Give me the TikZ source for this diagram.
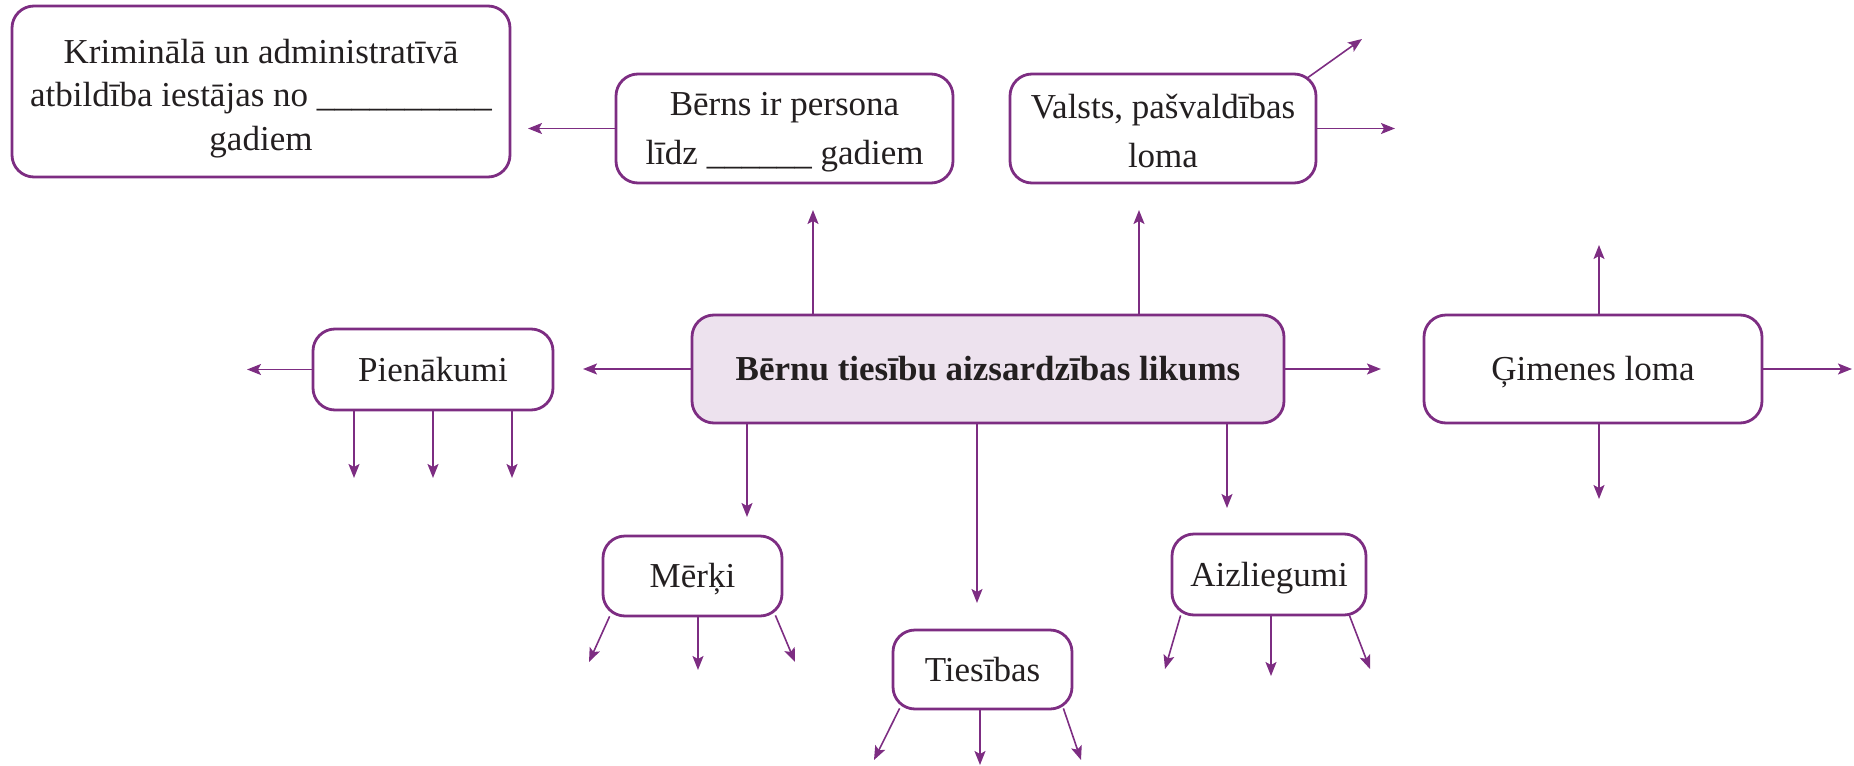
\documentclass[tikz,border=0pt]{standalone}
\usepackage{fontspec}
\setmainfont{Liberation Serif}
\usetikzlibrary{arrows.meta,calc}
\definecolor{pur}{RGB}{125,45,130}
\definecolor{lav}{RGB}{237,226,238}
\definecolor{txt}{RGB}{35,31,32}
\begin{document}
\begin{tikzpicture}[x=0.5pt,y=-0.5pt,
  box/.style={draw=pur, line width=1.4pt, rounded corners=11pt, fill=white, text=txt,
    font=\fontsize{17.5}{21.75}\selectfont, align=center, inner sep=0pt},
  one/.style={text height=15.5pt, text depth=4pt},
  two/.style={font=\fontsize{17.5}{24.5}\selectfont},
  arr/.style={draw=pur, line width=0.8pt, -{Stealth[length=7pt,width=5.5pt,inset=1.5pt]}}]
\useasboundingbox (0,0) rectangle (1854,766);

% nodes
\node[box, minimum width=249pt, minimum height=85.5pt] (krim) at (261,91.5)
  {\rule{0pt}{19pt}Kriminālā un administratīvā\\atbildība iestājas no \_\_\_\_\_\_\_\_\_\_\\gadiem};
\node[box, two, minimum width=168.5pt, minimum height=54.5pt] (berns) at (784.5,128.5)
  {\rule{0pt}{15pt}Bērns ir persona\\līdz \_\_\_\_\_\_ gadiem};
\node[box, two, minimum width=153pt, minimum height=54.5pt] (valsts) at (1163,128.5)
  {\rule{0pt}{15pt}Valsts, pašvaldības\\loma};
\node[box, one, fill=lav, minimum width=296pt, minimum height=54pt] (center) at (988,369)
  {\bfseries Bērnu tiesību aizsardzības likums};
\node[box, one, minimum width=120pt, minimum height=40.5pt] (pien) at (433,369.5) {Pienākumi};
\node[box, one, minimum width=169pt, minimum height=54pt] (gim) at (1593,369) {Ģimenes loma};
\node[box, one, minimum width=89.5pt, minimum height=40pt] (merki) at (692.5,576) {Mērķi};
\node[box, one, minimum width=89.5pt, minimum height=39.5pt] (ties) at (982.5,669.5) {Tiesības};
\node[box, one, minimum width=97pt, minimum height=40.5pt] (aizl) at (1269,574.5) {Aizliegumi};

% free ends
\coordinate (b1) at (528,128.5);
\coordinate (v1) at (1362,39);
\coordinate (v2) at (1395,128.5);
\coordinate (c1) at (813,210);
\coordinate (c2) at (1139,210);
\coordinate (c3) at (583,369);
\coordinate (c4) at (1381,369);
\coordinate (c5) at (747,517);
\coordinate (c6) at (977,603);
\coordinate (c7) at (1227,508);
\coordinate (p0) at (247,369.5);
\coordinate (p1) at (354,478);
\coordinate (p2) at (433,478);
\coordinate (p3) at (512,478);
\coordinate (g1) at (1599,245);
\coordinate (g2) at (1599,499);
\coordinate (g3) at (1852,369);
\coordinate (m1) at (589,662);
\coordinate (m2) at (698,670);
\coordinate (m3) at (795,662);
\coordinate (t1) at (874,760);
\coordinate (t2) at (980,765);
\coordinate (t3) at (1081,760);
\coordinate (a1) at (1165,669);
\coordinate (a2) at (1271,676);
\coordinate (a3) at (1370,669);

% connectors
\draw[arr] (berns.west) -- (b1);
\draw[arr] ($(valsts.north east)+(-11,6)$) -- (v1);
\draw[arr] (valsts.east) -- (v2);
\draw[arr] (center.north -| c1) -- (c1);
\draw[arr] (center.north -| c2) -- (c2);
\draw[arr] (center.west) -- (c3);
\draw[arr] (center.east) -- (c4);
\draw[arr] (center.south -| c5) -- (c5);
\draw[arr] (center.south -| c6) -- (c6);
\draw[arr] (center.south -| c7) -- (c7);
\draw[arr] (pien.west) -- (p0);
\draw[arr] (pien.south -| p1) -- (p1);
\draw[arr] (pien.south -| p2) -- (p2);
\draw[arr] (pien.south -| p3) -- (p3);
\draw[arr] (gim.north -| g1) -- (g1);
\draw[arr] (gim.south -| g2) -- (g2);
\draw[arr] (gim.east) -- (g3);
\draw[arr] ($(merki.south west)+(8,-1)$) -- (m1);
\draw[arr] (merki.south -| m2) -- (m2);
\draw[arr] ($(merki.south east)+(-8,-2)$) -- (m3);
\draw[arr] ($(ties.south west)+(8,-2)$) -- (t1);
\draw[arr] (ties.south -| t2) -- (t2);
\draw[arr] ($(ties.south east)+(-10,-2)$) -- (t3);
\draw[arr] ($(aizl.south west)+(10,-1)$) -- (a1);
\draw[arr] (aizl.south -| a2) -- (a2);
\draw[arr] ($(aizl.south east)+(-18,-1)$) -- (a3);
\end{tikzpicture}
\end{document}
